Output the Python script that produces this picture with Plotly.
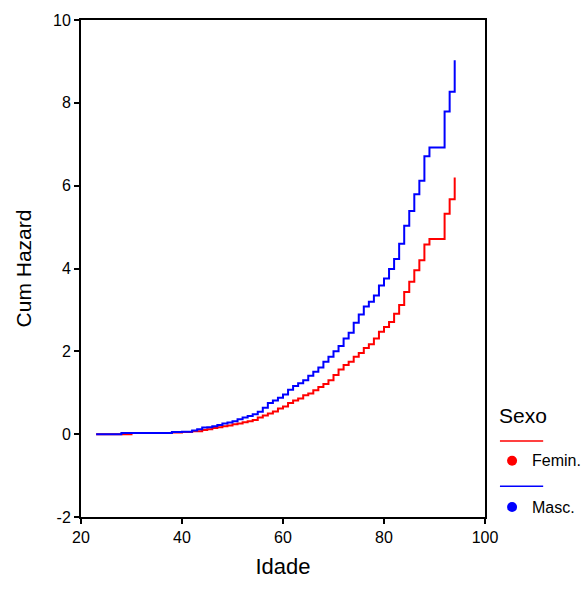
import plotly.graph_objects as go

# Cumulative hazard by age, step function per sex
ages_fem = [23, 30, 38, 40, 42, 44, 45, 46, 47, 48, 49, 50, 51, 52, 53, 54, 55, 56, 57,
            58, 59, 60, 61, 62, 63, 64, 65, 66, 67, 68, 69, 70, 71, 72, 73, 74, 75, 76,
            77, 78, 79, 80, 81, 82, 83, 84, 85, 86, 87, 88, 89, 92, 93, 94]
haz_fem = [0.00, 0.03, 0.04, 0.05, 0.07, 0.10, 0.12, 0.15, 0.17, 0.19, 0.21, 0.24, 0.26,
           0.29, 0.31, 0.34, 0.40, 0.45, 0.50, 0.55, 0.62, 0.67, 0.75, 0.81, 0.86, 0.94,
           0.98, 1.06, 1.14, 1.21, 1.30, 1.43, 1.56, 1.67, 1.75, 1.87, 1.96, 2.08, 2.17,
           2.31, 2.47, 2.59, 2.71, 2.91, 3.12, 3.43, 3.68, 3.96, 4.20, 4.58, 4.71, 5.32,
           5.67, 6.20]

ages_masc = [23, 28, 38, 40, 42, 43, 44, 45, 46, 47, 48, 49, 50, 51, 52, 53, 54, 55, 56,
             57, 58, 59, 60, 61, 62, 63, 64, 65, 66, 67, 68, 69, 70, 71, 72, 73, 74, 75,
             76, 77, 78, 79, 80, 81, 82, 83, 84, 85, 86, 87, 88, 89, 92, 93, 94]
haz_masc = [0.00, 0.03, 0.05, 0.06, 0.09, 0.12, 0.16, 0.17, 0.19, 0.22, 0.26, 0.28, 0.31,
            0.36, 0.40, 0.44, 0.48, 0.54, 0.64, 0.75, 0.81, 0.88, 0.96, 1.07, 1.16, 1.23,
            1.30, 1.41, 1.51, 1.61, 1.75, 1.87, 2.00, 2.13, 2.31, 2.45, 2.69, 2.89, 3.08,
            3.20, 3.35, 3.59, 3.76, 3.99, 4.23, 4.60, 5.03, 5.39, 5.79, 6.12, 6.71, 6.92,
            7.79, 8.27, 9.03]

x_ticks = [20, 40, 60, 80, 100]
y_ticks = [-2, 0, 2, 4, 6, 8, 10]

groups = ["Femin.", "Masc."]
colors = {"Femin.": "#ff0000", "Masc.": "#0000ff"}

FONT = "Liberation Sans, Arial, sans-serif"

fig = go.Figure()
fig.add_trace(go.Scatter(x=ages_fem, y=haz_fem, mode="lines", line_shape="hv",
                         line=dict(color=colors["Femin."], width=2), name="Femin.",
                         showlegend=False))
fig.add_trace(go.Scatter(x=ages_masc, y=haz_masc, mode="lines", line_shape="hv",
                         line=dict(color=colors["Masc."], width=2), name="Masc.",
                         showlegend=False))

axis_common = dict(showline=True, linecolor="black", linewidth=2, mirror=True,
                   ticks="outside", ticklen=5, tickwidth=1.5, tickcolor="black",
                   showgrid=False, zeroline=False,
                   tickfont=dict(family=FONT, size=16, color="black"))

fig.update_xaxes(range=[20, 100], tickvals=x_ticks,
                 title=dict(text="Idade", font=dict(family=FONT, size=22, color="black"),
                            standoff=13),
                 **axis_common)
fig.update_yaxes(range=[-2, 10], tickvals=y_ticks,
                 ticktext=[str(v) for v in y_ticks],
                 title=dict(text="Cum Hazard", font=dict(family=FONT, size=21, color="black"),
                            standoff=16),
                 **axis_common)

# Legend block drawn beside the plot area
shapes = []
annotations = [dict(x=1.030, y=0.205, xref="paper", yref="paper", text="Sexo",
                    showarrow=False, xanchor="left", yanchor="middle",
                    font=dict(family=FONT, size=21, color="black"))]
for i, g in enumerate(groups):
    line_y = 0.153 - i * 0.091
    dot_y = 0.113 - i * 0.093
    shapes.append(dict(type="line", xref="paper", yref="paper", x0=1.037, x1=1.144,
                       y0=line_y, y1=line_y, line=dict(color=colors[g], width=1.5)))
    shapes.append(dict(type="circle", xref="paper", yref="paper",
                       xsizemode="pixel", ysizemode="pixel",
                       xanchor=1.067, yanchor=dot_y, x0=-5, x1=5, y0=-5, y1=5,
                       fillcolor=colors[g], line=dict(color=colors[g], width=0)))
    annotations.append(dict(x=1.111, y=dot_y, xref="paper", yref="paper", text=g,
                            showarrow=False, xanchor="left", yanchor="middle",
                            font=dict(family=FONT, size=16, color="black")))

fig.update_layout(width=586, height=603, margin=dict(l=81, r=101, t=20, b=86),
                  plot_bgcolor="white", paper_bgcolor="white",
                  shapes=shapes, annotations=annotations, showlegend=False)

fig.write_html("out.html")
